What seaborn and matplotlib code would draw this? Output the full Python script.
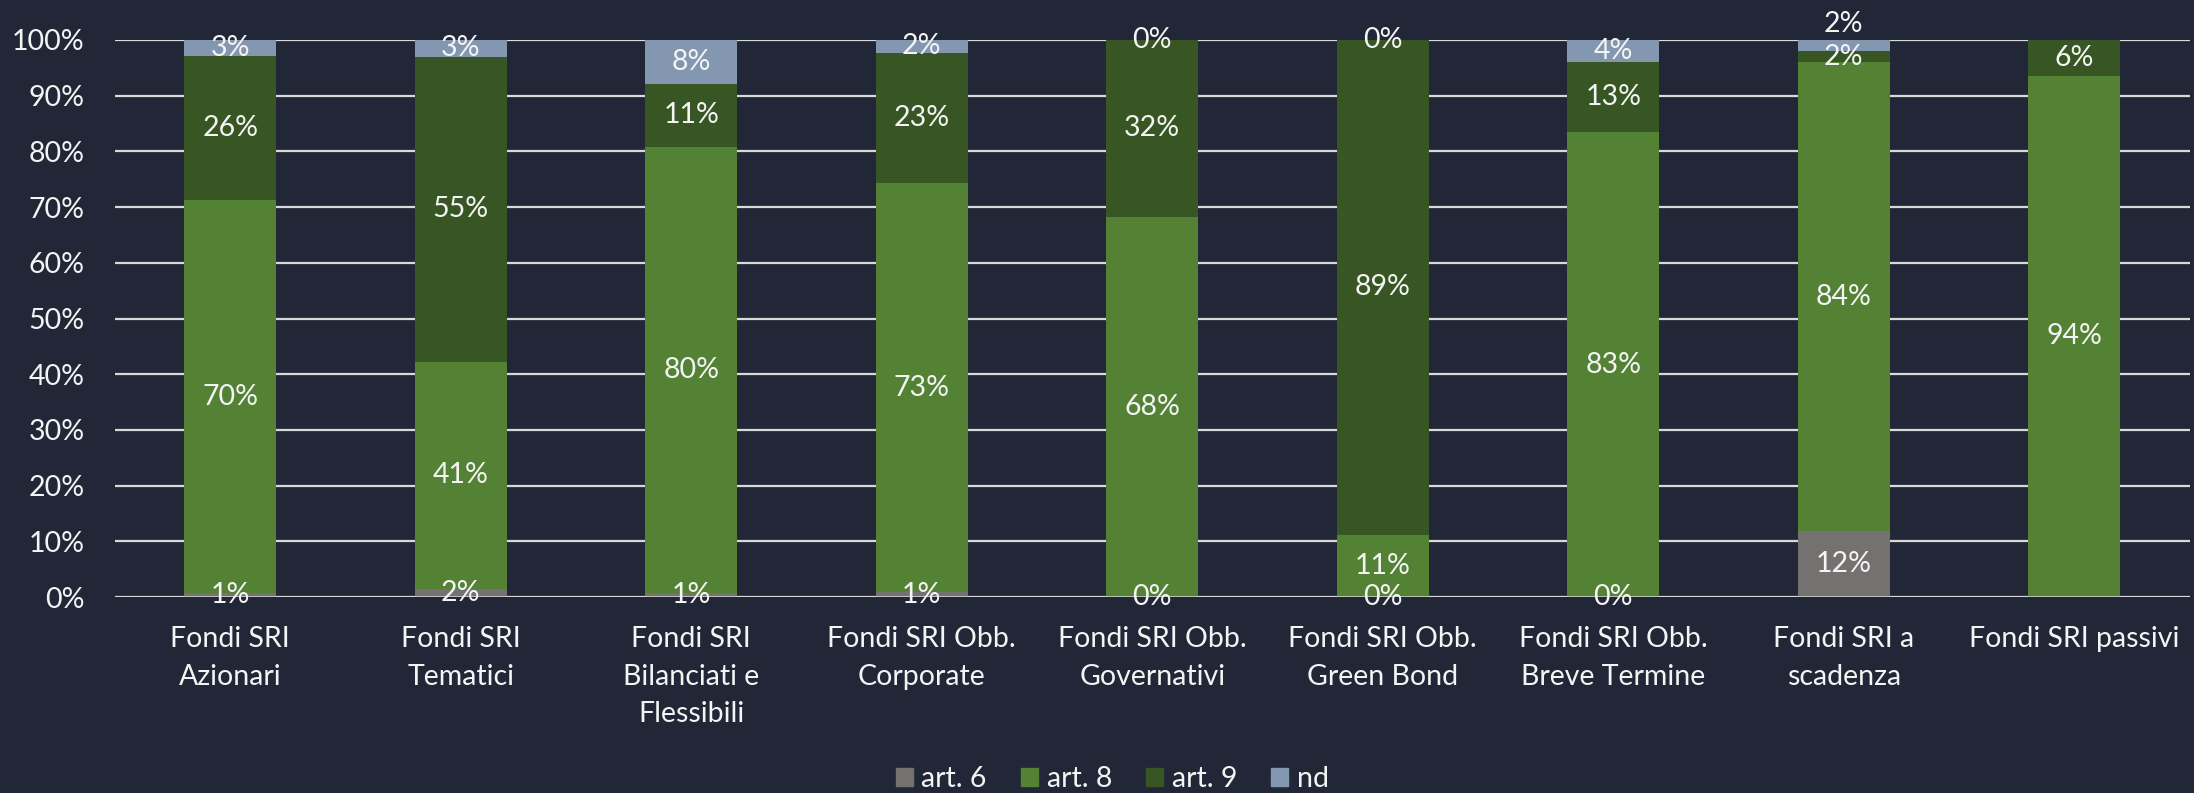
import numpy as np
import pandas as pd
import matplotlib
matplotlib.use("Agg")
import matplotlib.pyplot as plt
import seaborn as sns

# Dati (quote % per articolo SFDR)
categorie = ["Fondi SRI\nAzionari", "Fondi SRI\nTematici", "Fondi SRI\nBilanciati e\nFlessibili",
             "Fondi SRI Obb.\nCorporate", "Fondi SRI Obb.\nGovernativi", "Fondi SRI Obb.\nGreen Bond",
             "Fondi SRI Obb.\nBreve Termine", "Fondi SRI a\nscadenza", "Fondi SRI passivi"]
art6 = [0.8, 1.5, 0.7, 0.9, 0.0, 0.0, 0.0, 11.8, np.nan]
art8 = [70.4, 40.7, 80.1, 73.4, 68.3, 11.2, 83.4, 84.2, 93.6]
art9 = [25.9, 54.8, 11.3, 23.4, 31.7, 88.8, 12.6, 2.0, 6.4]
nd = [2.9, 3.0, 7.9, 2.3, 0.0, 0.0, 4.0, 2.0, np.nan]
serie = ["art. 6", "art. 8", "art. 9", "nd"]
colori = ["#767171", "#548235", "#375623", "#8497B0"]

BG = "#212736"
TXT = "#f4f4f4"

sns.set_theme(style="dark")
plt.rcParams["font.family"] = ["Lato", "DejaVu Sans"]

df = pd.DataFrame({"cat": categorie, "art. 6": art6, "art. 8": art8, "art. 9": art9, "nd": nd})
valori = df[serie].fillna(0)
cum = valori.cumsum(axis=1)

fig = plt.figure(figsize=(21.94, 7.93), dpi=100, facecolor=BG)
ax = fig.add_axes([0.0524, 0.247, 0.9456, 0.7026])
ax.set_facecolor(BG)

# barre impilate: si disegnano le somme cumulate dall'alto verso il basso
for s, c in reversed(list(zip(serie, colori))):
    sns.barplot(x=df["cat"], y=cum[s], color=c, width=0.4, saturation=1, linewidth=0,
                edgecolor=c, ax=ax, zorder=2)

# etichette dei valori
for i in range(len(categorie)):
    base = 0
    for s in serie:
        v = df[s].iloc[i]
        if np.isnan(v):
            continue
        y = base + v / 2
        if i == 7 and s == "nd":
            y += 3.8
        ax.text(i, y, f"{v:.0f}%", ha="center", va="center", color=TXT, fontsize=20.5, zorder=4)
        base += v

ax.set_ylim(0, 100)
ax.set_xlim(-0.5, len(categorie) - 0.5)
ax.set_yticks(range(0, 101, 10))
ax.set_yticklabels([f"{t}%" for t in range(0, 101, 10)])
ax.yaxis.grid(True, color="#d9d9d9", linewidth=1.6, zorder=1)
ax.xaxis.grid(False)
ax.set_axisbelow(True)
ax.axhline(0, color="#d9d9d9", linewidth=1.8, zorder=3)
ax.tick_params(axis="y", length=0, pad=22, labelsize=20.5, labelcolor=TXT)
ax.tick_params(axis="x", length=0, pad=21, labelsize=20.5, labelcolor=TXT)
for lab in ax.get_xticklabels():
    lab.set_linespacing(1.55)
ax.set_xlabel("")
ax.set_ylabel("")
for sp in ax.spines.values():
    sp.set_visible(False)

handles = [plt.Rectangle((0, 0), 1, 1, color=c) for c in colori]
fig.legend(handles, serie, loc="center", bbox_to_anchor=(0.507, 0.018), ncol=4, frameon=False,
           fontsize=20.5, labelcolor=TXT, handlelength=0.6, handleheight=0.6, handletextpad=0.3,
           columnspacing=1.2)

fig.savefig("out.png", dpi=100, facecolor=BG)
